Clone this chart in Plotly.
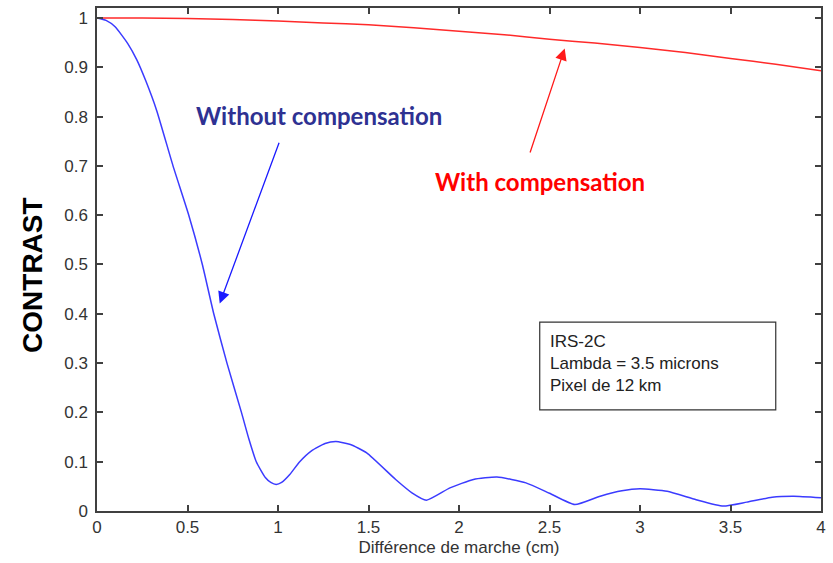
import plotly.graph_objects as go

# Data
x_without = [0, 0.05, 0.10, 0.17, 0.22, 0.27, 0.33, 0.42, 0.507, 0.582, 0.645, 0.718,
             0.798, 0.84, 0.88, 0.93, 0.96, 0.99, 1.02, 1.065, 1.12, 1.185, 1.26, 1.32, 1.40,
             1.49, 1.65, 1.74, 1.82, 1.95, 2.08, 2.21, 2.37, 2.50, 2.64, 2.78, 2.90, 3.0,
             3.15, 3.31, 3.46, 3.59, 3.73, 3.85, 4.0]
y_without = [1.0, 0.995, 0.982, 0.948, 0.915, 0.872, 0.812, 0.70, 0.60, 0.50, 0.40, 0.30,
             0.20, 0.145, 0.10, 0.068, 0.058, 0.054, 0.058, 0.074, 0.100, 0.122, 0.137, 0.141, 0.135,
             0.118, 0.064, 0.037, 0.022, 0.047, 0.064, 0.069, 0.057, 0.036, 0.013, 0.030, 0.041, 0.045,
             0.040, 0.023, 0.010, 0.018, 0.028, 0.030, 0.027]

x_with = [0, 0.25, 0.5, 0.75, 1.0, 1.25, 1.5, 1.75, 2.0, 2.25, 2.5, 2.75, 3.0, 3.25, 3.5, 3.75, 4.0]
y_with = [1.0, 1.0, 0.999, 0.997, 0.994, 0.990, 0.986, 0.980, 0.973, 0.966, 0.957, 0.949,
          0.940, 0.930, 0.918, 0.906, 0.893]

x_ticks = [0, 0.5, 1, 1.5, 2, 2.5, 3, 3.5, 4]
y_ticks = [0, 0.1, 0.2, 0.3, 0.4, 0.5, 0.6, 0.7, 0.8, 0.9, 1]

AX = "#404040"

fig = go.Figure()
fig.add_trace(go.Scatter(x=x_with, y=y_with, mode="lines", line_shape="spline",
                         line=dict(color="#ff2a2a", width=1.5, smoothing=0.6), showlegend=False))
fig.add_trace(go.Scatter(x=x_without, y=y_without, mode="lines", line_shape="spline",
                         line=dict(color="#3b3bff", width=1.5, smoothing=0.5), showlegend=False))

axis_common = dict(showgrid=False, zeroline=False, showline=True, linecolor=AX, linewidth=1.5,
                   mirror="ticks", ticks="inside", ticklen=6, tickcolor=AX, tickwidth=1.5,
                   tickfont=dict(family="Liberation Sans, Arial", size=17, color="#333333"))

fig.update_xaxes(range=[0, 4], tickvals=x_ticks, ticktext=[f"{v:g}" for v in x_ticks],
                 title=dict(text="Différence de marche (cm)",
                            font=dict(family="Liberation Sans, Arial", size=17, color="#333333"),
                            standoff=5),
                 **axis_common)
fig.update_yaxes(range=[0, 1.0202], tickvals=y_ticks, ticktext=[f"{v:g}" for v in y_ticks],
                 ticklabelstandoff=4, **axis_common)

# Box with info text
fig.add_shape(type="rect", xref="x", yref="y", x0=2.446, x1=3.75, y0=0.205, y1=0.383,
              line=dict(color="#333333", width=1.2), fillcolor="white")

annotations = [
    dict(x=2.49, y=0.300, xref="x", yref="y", xanchor="left", yanchor="middle", align="left",
         showarrow=False, text="IRS-2C<br>Lambda = 3.5 microns<br>Pixel de 12 km",
         font=dict(family="Liberation Sans, Arial", size=17, color="#222222")),
    dict(x=1.225, y=0.803, xref="x", yref="y", showarrow=False,
         text="<b>Without compensation</b>",
         font=dict(family="Lato, Liberation Sans", size=24, color="#2e3192")),
    dict(x=2.446, y=0.668, xref="x", yref="y", showarrow=False,
         text="<b>With compensation</b>",
         font=dict(family="Lato, Liberation Sans", size=24, color="#ff0000")),
    dict(x=0.678, y=0.421, ax=1.009, ay=0.750, xref="x", yref="y", axref="x", ayref="y",
         showarrow=True, arrowhead=2, arrowsize=1.8, arrowwidth=1.3, arrowcolor="#1a1aff", text=""),
    dict(x=2.584, y=0.938, ax=2.39, ay=0.724, xref="x", yref="y", axref="x", ayref="y",
         showarrow=True, arrowhead=2, arrowsize=1.8, arrowwidth=1.3, arrowcolor="#ff1a1a", text=""),
    dict(xref="paper", yref="paper", x=-(97 - 33) / 724, y=(511 - 274) / 505,
         xanchor="center", yanchor="middle",
         text="<b>CONTRAST</b>", textangle=-90, showarrow=False,
         font=dict(family="Liberation Sans, Arial", size=28, color="black")),
]

fig.update_layout(
    width=833, height=563,
    margin=dict(l=97, r=12, t=6, b=52),
    paper_bgcolor="white", plot_bgcolor="white",
    annotations=annotations,
)

fig.write_html("out.html")
